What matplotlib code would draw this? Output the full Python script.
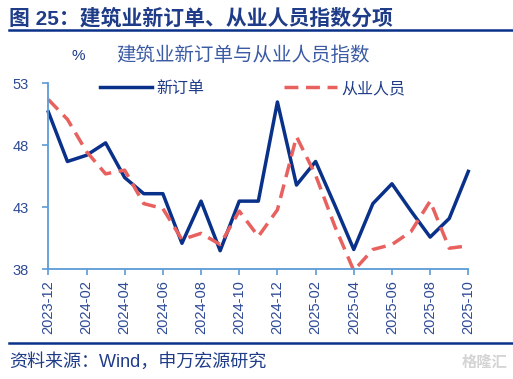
import matplotlib
matplotlib.use("Agg")
import matplotlib.pyplot as plt

plt.rcParams['font.family'] = ['Liberation Sans', 'Noto Sans CJK SC', 'DejaVu Sans']

# monthly index values, 2023-12 .. 2025-10
months = ['2023-12', '2024-01', '2024-02', '2024-03', '2024-04', '2024-05',
          '2024-06', '2024-07', '2024-08', '2024-09', '2024-10', '2024-11',
          '2024-12', '2025-01', '2025-02', '2025-03', '2025-04', '2025-05',
          '2025-06', '2025-07', '2025-08', '2025-09', '2025-10']
new_orders = [50.7, 46.7, 47.2, 48.2, 45.4, 44.1, 44.1, 40.1, 43.5, 39.5, 43.5, 43.5,
              51.5, 44.8, 46.7, 43.2, 39.6, 43.3, 44.9, 42.7, 40.6, 42.1, 45.9]
employment = [51.7, 50.1, 47.5, 45.7, 46.0, 43.3, 42.9, 40.4, 40.9, 40.0, 42.7, 40.65,
              42.8, 48.7, 45.6, 41.5, 37.9, 39.6, 40.0, 41.05, 43.5, 39.7, 39.9]
yticks = [38, 43, 48, 53]

navy = '#1F3C88'
tick_col = '#2E4A96'
spine_col = '#5B9BD5'
blue = '#0A318A'
red = '#E8615F'

fig = plt.figure(figsize=(5.13, 3.79), dpi=100)
ax = fig.add_axes([0.0942, 0.2894, 0.8187, 0.4906])

x = list(range(len(months)))
ax.plot(x, new_orders, color=blue, lw=2.5, clip_on=False, label='新订单')
ax.plot(x, employment, color=red, lw=2.5, ls=(0, (4, 2.2)), clip_on=False, label='从业人员')

ax.set_xlim(0, len(months) - 1)
ax.set_ylim(38, 53)
ax.set_yticks(yticks)
ax.set_xticks(x[::2])
ax.set_xticklabels(months[::2], rotation=90)

for s in ['top', 'right']:
    ax.spines[s].set_visible(False)
for s in ['left', 'bottom']:
    ax.spines[s].set_color(spine_col)
    ax.spines[s].set_linewidth(1.3)
ax.tick_params(axis='both', direction='out', length=4, width=1.2, color=spine_col,
               labelcolor=tick_col, labelsize=10.5)
ax.tick_params(axis='y', pad=10)
ax.tick_params(axis='x', pad=4)

# legend drawn as two separate entries like the original
leg1 = ax.legend(handles=[ax.lines[0]], loc='upper left', bbox_to_anchor=(0.088, 1.09),
                 frameon=False, fontsize=11.5, handlelength=3.3, handletextpad=0.25,
                 labelcolor=navy)
ax.add_artist(leg1)
ax.legend(handles=[ax.lines[1]], loc='upper left', bbox_to_anchor=(0.528, 1.09),
          frameon=False, fontsize=11.5, handlelength=3.3, handletextpad=0.25,
          labelcolor=navy)

fig.text(0.152, 0.852, '%', fontsize=11, color=navy, ha='center', va='center')
fig.text(0.474, 0.852, '建筑业新订单与从业人员指数', fontsize=14, color='#3C5BA5',
         ha='center', va='center')

fig.text(0.018, 0.952, '图 25：建筑业新订单、从业人员指数分项', fontsize=15,
         fontweight='bold', color=navy, ha='left', va='center')
fig.add_artist(plt.Line2D([0.018, 1.0], [0.921, 0.921], color='#0A318A', lw=1.8))
fig.add_artist(plt.Line2D([0.018, 1.0], [0.096, 0.096], color='#0A318A', lw=1.8))
fig.text(0.018, 0.044, '资料来源：Wind，申万宏源研究', fontsize=13, color=navy,
         ha='left', va='center')
fig.text(0.99, 0.044, '格隆汇', fontsize=11, color='#D4D4D4', ha='right', va='center',
         fontweight='bold')

fig.savefig('out.png', dpi=100)
